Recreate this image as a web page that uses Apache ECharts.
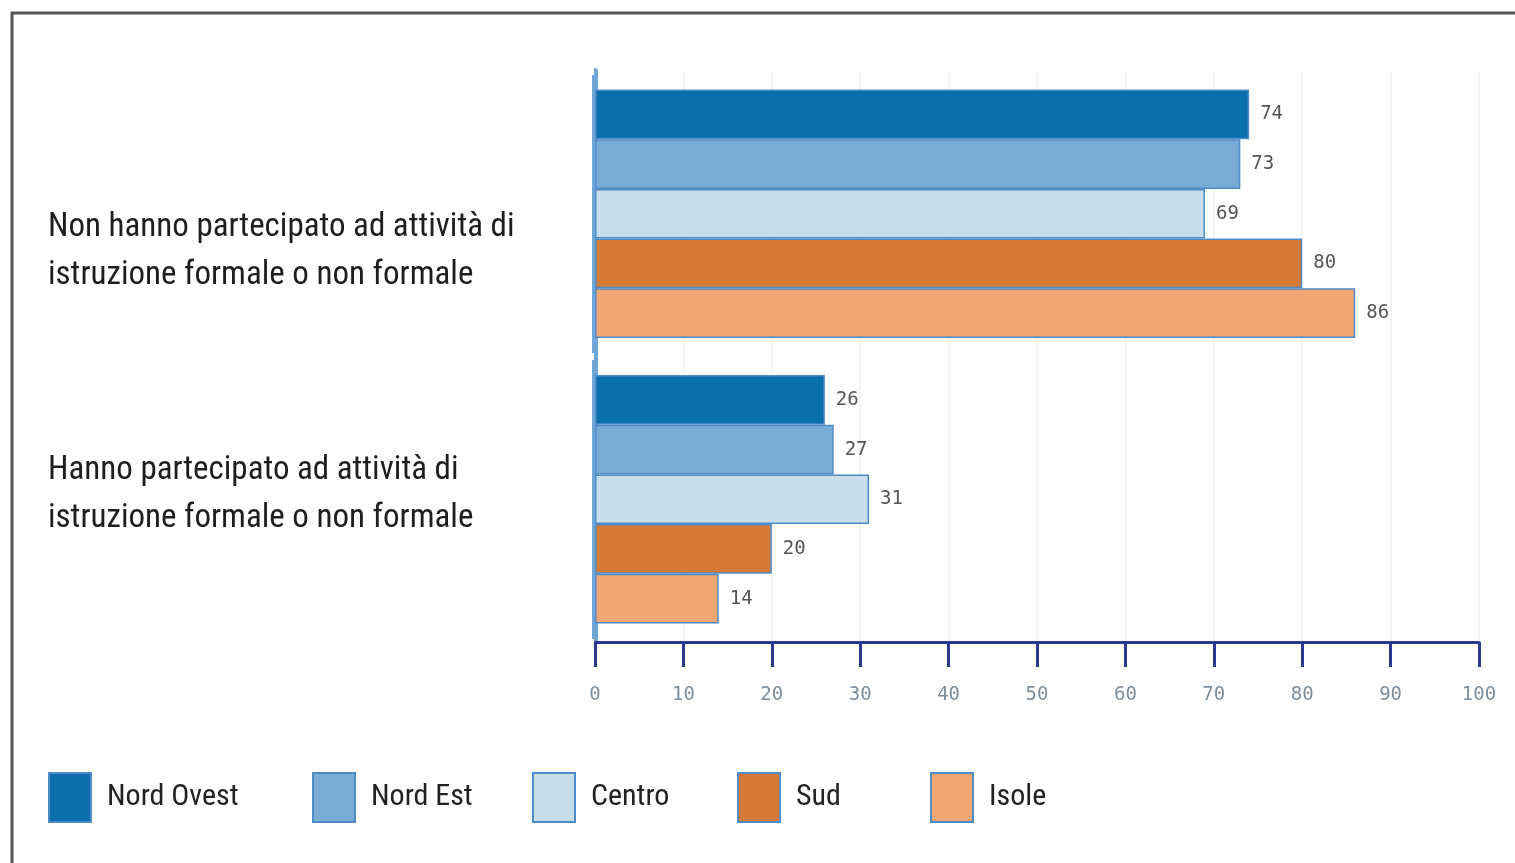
<!DOCTYPE html>
<html>
<head>
<meta charset="utf-8">
<title>Partecipazione ad attività di istruzione</title>
<script src="https://cdn.jsdelivr.net/npm/echarts@6/dist/echarts.min.js"></script>
<style>
  html, body { margin: 0; padding: 0; background: #fff; }
  #main { width: 1515px; height: 863px; }
</style>
</head>
<body>
<div id="main"></div>
<script>
// categorie (dall'alto verso il basso)
var categories = [
  'Non hanno partecipato ad attività di\nistruzione formale o non formale',
  'Hanno partecipato ad attività di\nistruzione formale o non formale'
];
// ripartizioni
var regions = ['Nord Ovest', 'Nord Est', 'Centro', 'Sud', 'Isole'];
// valori %
var nordOvest = [74, 26];
var nordEst = [73, 27];
var centro = [69, 31];
var sud = [80, 20];
var isole = [86, 14];
var xTicks = [0, 10, 20, 30, 40, 50, 60, 70, 80, 90, 100];

var values = [nordOvest, nordEst, centro, sud, isole];
var colors = ['#0b6fae', '#79abd7', '#c9dcea', '#d57a37', '#f0a771'];
var legendLeft = [48, 312, 532, 737, 930];
var labelFont = 'Roboto Condensed';

var chart = echarts.init(document.getElementById('main'));

var series = regions.map(function (name, i) {
  return {
    name: name,
    type: 'bar',
    yAxisIndex: 0,
    data: values[i],
    barGap: '0%',
    barCategoryGap: '13%',
    itemStyle: {
      color: colors[i],
      borderColor: '#4f8bc6',
      borderWidth: 1.5
    },
    label: {
      show: true,
      position: 'right',
      distance: 11,
      fontFamily: 'DejaVu Sans Mono',
      fontSize: 19,
      color: '#555'
    }
  };
});

// una legenda per voce, per rispettare le posizioni
var legends = regions.map(function (name, i) {
  return {
    data: [name],
    left: legendLeft[i],
    top: 772,
    padding: 0,
    itemWidth: 42,
    itemHeight: 49,
    icon: 'rect',
    textStyle: {
      fontFamily: labelFont,
      fontSize: 30,
      color: '#222',
      padding: [0, 0, 0, 11]
    }
  };
});

// etichette a sinistra: righe allineate a sinistra, con riga vuota per spostarle
function catLabel(value, index) {
  var lines = value.split('\n');
  var txt = '{line|' + lines[0] + '}\n{line|' + lines[1] + '}';
  if (index == 0) return '{sp1|}\n' + txt;
  return txt + '\n{sp2|}';
}

var lineStyle = { width: 480, align: 'left', fontFamily: labelFont, fontSize: 33, lineHeight: 48, color: '#1e1e1e' };

var option = {
  animation: false,
  backgroundColor: '#fff',
  color: colors,
  legend: legends,
  grid: {
    left: 595,
    right: 36,
    top: 71,
    bottom: 221,
    containLabel: false,
    outerBoundsMode: 'none'
  },
  xAxis: {
    type: 'value',
    min: xTicks[0],
    max: xTicks[xTicks.length - 1],
    interval: xTicks[1] - xTicks[0],
    axisLine: { show: true, lineStyle: { color: '#2b3a8f', width: 3 } },
    axisTick: { show: true, length: 25, lineStyle: { color: '#2b3a8f', width: 3 } },
    axisLabel: {
      margin: 44,
      fontFamily: 'DejaVu Sans Mono',
      fontSize: 19,
      color: '#7d8e9c'
    },
    splitLine: { show: true, lineStyle: { color: '#f1f1f1', width: 1.5 } }
  },
  yAxis: [
    {
      type: 'category',
      inverse: true,
      data: categories,
      offset: 5,
      axisLine: { show: true, lineStyle: { color: '#6ea6d8', width: 6 } },
      axisTick: { show: false },
      axisLabel: {
        margin: 62,
        formatter: catLabel,
        fontFamily: labelFont,
        fontSize: 33,
        lineHeight: 48,
        color: '#1e1e1e',
        rich: {
          line: lineStyle,
          sp1: { width: 480, fontSize: 10, lineHeight: 76 },
          sp2: { width: 480, fontSize: 10, lineHeight: 10 }
        }
      },
      splitLine: { show: false }
    },
    {
      // asse di servizio: tacche bianche che interrompono la linea
      type: 'category',
      inverse: true,
      data: categories,
      position: 'left',
      offset: 1,
      axisLine: { show: false },
      axisTick: { show: true, length: 10, lineStyle: { color: '#fff', width: 7 } },
      axisLabel: { show: false },
      splitLine: { show: false }
    }
  ],
  graphic: [
    {
      type: 'rect',
      shape: { x: 12, y: 13, width: 2000, height: 2000 },
      style: { fill: 'none', stroke: '#555', lineWidth: 3 },
      silent: true
    }
  ],
  series: series
};

chart.setOption(option);
</script>
</body>
</html>
